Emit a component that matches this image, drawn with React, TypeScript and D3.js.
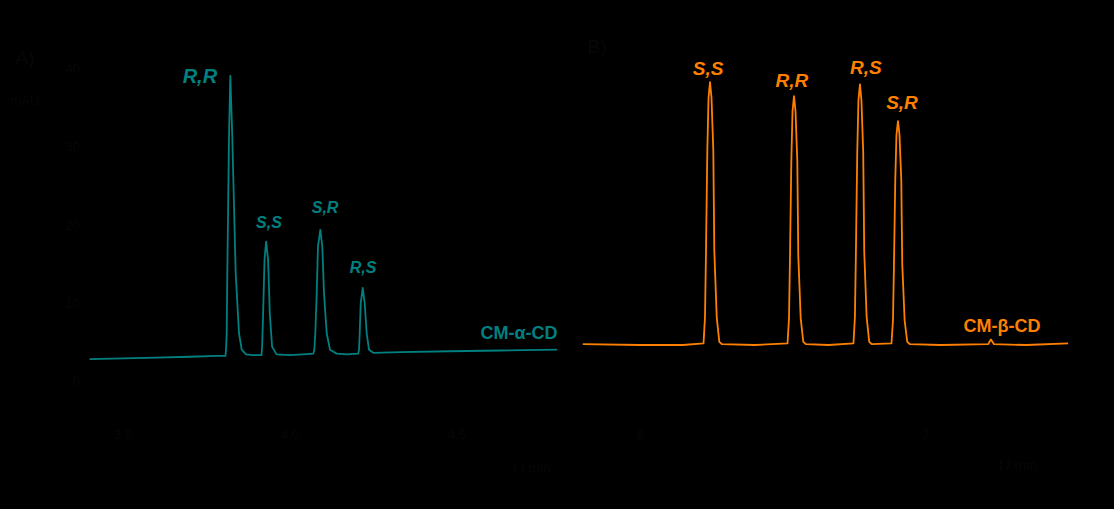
import React from "react";
import * as d3 from "d3";

// Panel A (CM-α-CD): retention time (min) and absorbance (mAU)
const traceA_t = [
  3.40, 3.50, 3.60, 3.70, 3.78,
  3.8069, 3.8084, 3.8105, 3.8123, 3.8174, 3.8213, 3.8272, 3.8374, 3.8473, 3.8554, 3.8683, 3.8892,
  3.9147, 3.9165, 3.9195, 3.9237, 3.9284, 3.9344, 3.9395, 3.9464, 3.9596, 4.00, 4.04,
  4.0698, 4.0728, 4.0758, 4.0799, 4.0838, 4.0907, 4.0967, 4.1018, 4.1099, 4.1198, 4.1398, 4.17,
  4.2045, 4.2066, 4.2087, 4.2117, 4.2177, 4.2237, 4.2296, 4.2365, 4.2494,
  4.33, 4.48, 4.63, 4.80,
];
const traceA_v = [
  2.8, 2.9, 3.0, 3.1, 3.2,
  3.2, 4.0, 6.1, 13.8, 31.2, 39.0, 31.2, 13.8, 6.1, 4.0, 3.4, 3.3,
  3.3, 4.4, 8.6, 15.5, 17.8, 15.5, 8.6, 4.4, 3.4, 3.3, 3.4,
  3.5, 4.0, 6.1, 11.2, 17.2, 19.3, 17.2, 11.2, 6.1, 4.0, 3.5, 3.4,
  3.5, 4.0, 6.1, 9.9, 11.9, 9.9, 6.1, 4.0, 3.6,
  3.7, 3.8, 3.9, 4.0,
];

// Panel B (CM-β-CD)
const traceB_t = [
  5.80, 6.00, 6.15,
  6.2221, 6.2273, 6.2308, 6.2354, 6.2396, 6.2448, 6.2500, 6.2563, 6.2598, 6.2682, 6.2773, 6.2868,
  6.40,
  6.5158, 6.5210, 6.5245, 6.5291, 6.5333, 6.5385, 6.5437, 6.5500, 6.5535, 6.5619, 6.5710, 6.5805,
  6.66,
  6.7463, 6.7515, 6.7550, 6.7596, 6.7638, 6.7690, 6.7742, 6.7805, 6.7840, 6.7924, 6.8015, 6.8110,
  6.8793, 6.8845, 6.8880, 6.8926, 6.8968, 6.9020, 6.9072, 6.9135, 6.9170, 6.9254, 6.9345, 6.9440,
  7.05, 7.217, 7.227, 7.2378, 7.35, 7.497,
];
const traceB_v = [
  4.7, 4.6, 4.6,
  4.8, 8.2, 16.7, 29.5, 36.2, 38.2, 36.2, 29.5, 16.7, 8.2, 5.0, 4.7,
  4.6,
  4.8, 8.0, 16.0, 28.1, 34.5, 36.4, 34.5, 28.1, 16.0, 8.0, 5.0, 4.7,
  4.6,
  4.8, 8.2, 16.6, 29.2, 35.9, 37.9, 35.9, 29.2, 16.6, 8.2, 5.0, 4.7,
  4.8, 7.7, 14.9, 25.8, 31.5, 33.2, 31.5, 25.8, 14.9, 7.7, 5.0, 4.7,
  4.6, 4.7, 5.3, 4.7, 4.6, 4.8,
];

const yTicksA = [0, 10, 20, 30, 40];
const xTicksA = [3.5, 4.0, 4.5];
const xTickLabelsA = ["3,5", "4,0", "4,5"];
const xTicksB = [6, 7];
const xTickLabelsB = ["6", "7"];

const peakLabelsA = [
  { name: "R,R", t: 3.82, v: 39 },
  { name: "S,S", t: 3.928, v: 17.9 },
  { name: "S,R", t: 4.09, v: 19.4 },
  { name: "R,S", t: 4.216, v: 11.9 },
];
const peakLabelsB = [
  { name: "S,S", t: 6.245, v: 38.2 },
  { name: "R,R", t: 6.538, v: 36.4 },
  { name: "R,S", t: 6.769, v: 37.9 },
  { name: "S,R", t: 6.902, v: 33.2 },
];

const TEAL = "#008080";
const ORANGE = "#FF8000";
const DARK = "#070707";
const FONT = "'Liberation Sans', Arial, sans-serif";

export default function App() {
  const W = 1114;
  const H = 509;
  const xA = d3.scaleLinear().domain([3.5, 4.5]).range([123, 457]);
  const xB = d3.scaleLinear().domain([6, 7]).range([640, 926]);
  const y = d3.scaleLinear().domain([0, 40]).range([381, 68]);

  const dataA = traceA_t.map((t, i) => [t, traceA_v[i]] as [number, number]);
  const dataB = traceB_t.map((t, i) => [t, traceB_v[i]] as [number, number]);
  const lineA = d3.line<[number, number]>().x((d) => xA(d[0])).y((d) => y(d[1]));
  const lineB = d3.line<[number, number]>().x((d) => xB(d[0])).y((d) => y(d[1]));

  const labelOffA = [
    { dx: -30, dy: 7.5, fs: 20 },
    { dx: 3, dy: -13, fs: 16 },
    { dx: 5, dy: -16, fs: 16 },
    { dx: 1, dy: -15, fs: 16 },
  ];
  const labelOffB = [
    { dx: -2, dy: -7, fs: 19 },
    { dx: -2, dy: -9, fs: 19 },
    { dx: 6, dy: -10, fs: 19 },
    { dx: 4, dy: -12, fs: 19 },
  ];

  return (
    <svg
      width={W}
      height={H}
      style={{ position: "absolute", left: 0, top: 0, background: "#000" }}
    >
      <rect x={0} y={0} width={W} height={H} fill="#000" />
      <g fontFamily={FONT} fill={DARK}>
        <text x={25} y={64} fontSize={19} textAnchor="middle">A)</text>
        <text x={597} y={53} fontSize={19} textAnchor="middle">B)</text>
        <text x={25} y={105} fontSize={13} textAnchor="middle">mAU</text>
        {yTicksA.map((v) => (
          <text key={v} x={80} y={y(v) + 5} fontSize={13} textAnchor="end">{v}</text>
        ))}
        {xTicksA.map((t, i) => (
          <text key={t} x={xA(t)} y={439} fontSize={13} textAnchor="middle">{xTickLabelsA[i]}</text>
        ))}
        {xTicksB.map((t, i) => (
          <text key={t} x={xB(t)} y={439} fontSize={13} textAnchor="middle">{xTickLabelsB[i]}</text>
        ))}
        <text x={532} y={473} fontSize={14} textAnchor="middle">t / min</text>
        <text x={1018} y={470} fontSize={14} textAnchor="middle">t / min</text>
      </g>

      <path d={lineA(dataA) || ""} fill="none" stroke={TEAL} strokeWidth={1.8} strokeLinejoin="round" />
      <path d={lineB(dataB) || ""} fill="none" stroke={ORANGE} strokeWidth={1.8} strokeLinejoin="round" />

      <g fontFamily={FONT} fontWeight="bold" fontStyle="italic" fill={TEAL} textAnchor="middle">
        {peakLabelsA.map((p, i) => (
          <text key={p.name} x={xA(p.t) + labelOffA[i].dx} y={y(p.v) + labelOffA[i].dy} fontSize={labelOffA[i].fs}>
            {p.name}
          </text>
        ))}
      </g>
      <g fontFamily={FONT} fontWeight="bold" fontStyle="italic" fill={ORANGE} textAnchor="middle">
        {peakLabelsB.map((p, i) => (
          <text key={p.name} x={xB(p.t) + labelOffB[i].dx} y={y(p.v) + labelOffB[i].dy} fontSize={labelOffB[i].fs}>
            {p.name}
          </text>
        ))}
      </g>
      <text x={519} y={339} fontFamily={FONT} fontWeight="bold" fontSize={18} fill={TEAL} textAnchor="middle">CM-α-CD</text>
      <text x={1002} y={332} fontFamily={FONT} fontWeight="bold" fontSize={18} fill={ORANGE} textAnchor="middle">CM-β-CD</text>
    </svg>
  );
}
